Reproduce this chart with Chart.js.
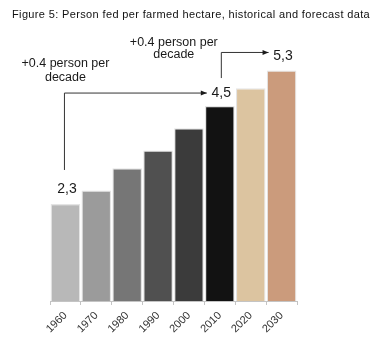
<!DOCTYPE html>
<html>
<head>
<meta charset="utf-8">
<script src="https://cdn.jsdelivr.net/npm/chart.js@4/dist/chart.umd.min.js"></script>
<style>
html,body{margin:0;padding:0;background:#fff;}
canvas{display:block;}
</style>
</head>
<body>
<canvas id="c" width="379" height="356"></canvas>
<script>
const categories = ['1960','1970','1980','1990','2000','2010','2020','2030'];
const values = [2.3, 2.6, 3.1, 3.5, 4.0, 4.5, 4.9, 5.3];
const barColors = ['#b8b8b8','#9b9b9b','#767676','#505050','#3b3b3b','#121212','#dcc4a0','#cb9b7c'];
const valueLabels = ['2,3', '4,5', '5,3'];
const trendText = ['+0.4 person per', 'decade'];
const titleText = 'Figure 5: Person fed per farmed hectare, historical and forecast data';

const FONT = '"Liberation Sans", Arial, Helvetica, sans-serif';

function arrowHead(ctx, x, y) {
  ctx.beginPath();
  ctx.moveTo(x, y);
  ctx.lineTo(x - 6, y - 2.5);
  ctx.lineTo(x - 6, y + 2.5);
  ctx.closePath();
  ctx.fill();
}

const annotate = {
  id: 'annotate',
  afterDatasetsDraw(chart) {
    const ctx = chart.ctx;
    const xs = chart.scales.x, ys = chart.scales.y;
    const cx = i => xs.getPixelForValue(i);
    const top = i => ys.getPixelForValue(values[i]);
    ctx.save();

    // title
    ctx.fillStyle = '#111';
    ctx.font = '11px ' + FONT;
    ctx.textAlign = 'left';
    ctx.textBaseline = 'middle';
    if ('letterSpacing' in ctx) ctx.letterSpacing = '0.36px';
    ctx.fillText(titleText, 12, 14.5);
    if ('letterSpacing' in ctx) ctx.letterSpacing = '0px';

    ctx.fillStyle = '#1a1a1a';
    ctx.strokeStyle = '#333';
    ctx.lineWidth = 1;
    ctx.textAlign = 'center';

    // value labels
    ctx.font = '14px ' + FONT;
    const i0 = 0, i1 = 5, i2 = 7;
    ctx.fillText(valueLabels[0], cx(i0) + 1.5, top(i0) - 15);
    ctx.fillText(valueLabels[1], cx(i1) + 1.5, top(i1) - 13);
    ctx.fillText(valueLabels[2], cx(i2) + 1.5, top(i2) - 14);

    // bracket 1: 1960 -> 2010
    const y1 = top(i1) - 13;
    ctx.beginPath();
    ctx.moveTo(cx(i0) - 1, top(i0) - 34);
    ctx.lineTo(cx(i0) - 1, y1);
    ctx.lineTo(cx(i1) - 13, y1);
    ctx.stroke();
    arrowHead(ctx, cx(i1) - 13, y1);

    // bracket 2: 2010 -> 2030
    const y2 = top(i2) - 18;
    ctx.beginPath();
    ctx.moveTo(cx(i1) + 1.5, top(i1) - 28);
    ctx.lineTo(cx(i1) + 1.5, y2);
    ctx.lineTo(cx(i2) - 13, y2);
    ctx.stroke();
    arrowHead(ctx, cx(i2) - 13, y2);

    // trend texts
    ctx.font = '12.5px ' + FONT;
    const t1x = cx(i0), t1y = y1 - 30;
    ctx.fillText(trendText[0], t1x, t1y);
    ctx.fillText(trendText[1], t1x, t1y + 14);
    const t2x = cx(i1) - 46, t2y = y2 - 10;
    ctx.fillText(trendText[0], t2x, t2y);
    ctx.fillText(trendText[1], t2x, t2y + 12);
    ctx.restore();
  }
};

new Chart(document.getElementById('c'), {
  type: 'bar',
  data: {
    labels: categories,
    datasets: [{
      data: values,
      backgroundColor: barColors,
      borderColor: '#e4e4e4',
      borderWidth: 1.2,
      barPercentage: 0.96,
      categoryPercentage: 1.0
    }]
  },
  options: {
    responsive: false,
    animation: false,
    devicePixelRatio: 1,
    layout: { padding: { left: 50, right: 82, top: 39.3, bottom: 0 } },
    plugins: {
      legend: { display: false },
      tooltip: { enabled: false },
      title: { display: false }
    },
    scales: {
      x: {
        offset: true,
        afterFit: s => { s.height = 55; },
        grid: {
          display: true,
          offset: true,
          drawOnChartArea: false,
          drawTicks: true,
          tickLength: 4,
          color: '#c4c4c4'
        },
        border: { display: true, color: '#c4c4c4', width: 1 },
        ticks: {
          color: '#333',
          font: { family: FONT, size: 11 },
          minRotation: 45,
          maxRotation: 45,
          autoSkip: false,
          padding: 4
        }
      },
      y: {
        display: false,
        min: 0.12,
        max: 6
      }
    }
  },
  plugins: [annotate]
});
</script>
</body>
</html>
